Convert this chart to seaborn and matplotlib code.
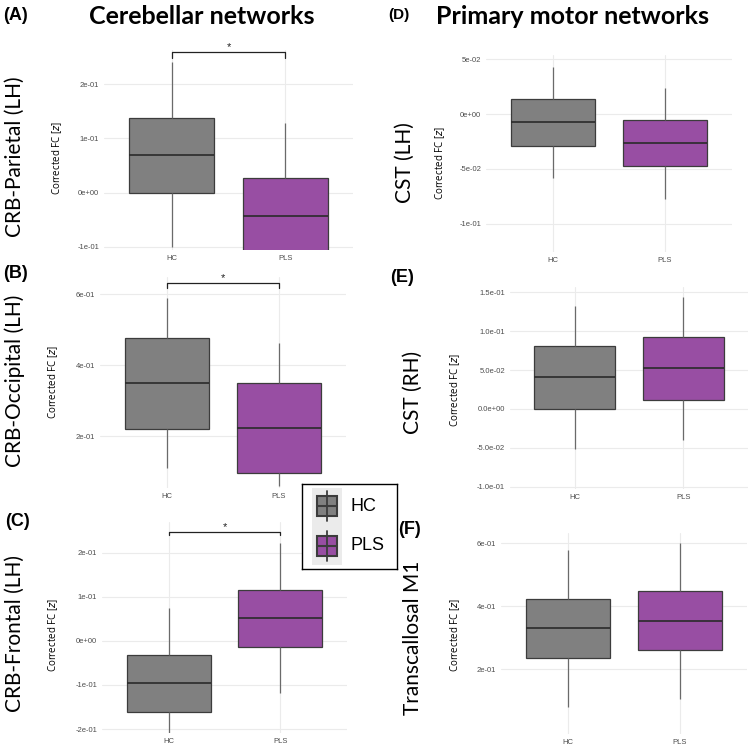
import numpy as np
import pandas as pd
import seaborn as sns
import matplotlib.pyplot as plt
from matplotlib.patches import Rectangle

sns.set_theme(style="whitegrid")
plt.rcParams["font.family"] = ["Liberation Sans", "DejaVu Sans"]
plt.rcParams["text.color"] = "black"

# five-number summaries: [low whisker, q1, median, q3, high whisker]
groups = ["HC", "PLS"]
crb_parietal_hc = [-0.100, 0.000, 0.070, 0.138, 0.240]
crb_parietal_pls = [-0.150, -0.110, -0.044, 0.026, 0.129]
crb_occipital_hc = [0.110, 0.220, 0.349, 0.476, 0.589]
crb_occipital_pls = [0.060, 0.096, 0.222, 0.349, 0.462]
crb_frontal_hc = [-0.220, -0.161, -0.095, -0.032, 0.075]
crb_frontal_pls = [-0.118, -0.014, 0.052, 0.116, 0.222]
cst_lh_hc = [-0.058, -0.029, -0.0076, 0.0134, 0.043]
cst_lh_pls = [-0.0775, -0.047, -0.0265, -0.0056, 0.0235]
cst_rh_hc = [-0.052, 0.000, 0.041, 0.081, 0.133]
cst_rh_pls = [-0.040, 0.0116, 0.053, 0.093, 0.144]
transcallosal_hc = [0.079, 0.235, 0.330, 0.422, 0.578]
transcallosal_pls = [0.105, 0.260, 0.352, 0.448, 0.600]

row_labels = ["CRB-Parietal (LH)", "CRB-Occipital (LH)", "CRB-Frontal (LH)",
              "CST (LH)", "CST (RH)", "Transcallosal M1"]
panel_letters = ["(A)", "(B)", "(C)", "(D)", "(E)", "(F)"]
y_ticks = [[-0.1, 0.0, 0.1, 0.2], [0.2, 0.4, 0.6], [-0.2, -0.1, 0.0, 0.1, 0.2],
           [-0.1, -0.05, 0.0, 0.05], [-0.1, -0.05, 0.0, 0.05, 0.10, 0.15], [0.2, 0.4, 0.6]]
y_tick_labels = [["-1e-01", "0e+00", "1e-01", "2e-01"],
                 ["2e-01", "4e-01", "6e-01"],
                 ["-2e-01", "-1e-01", "0e+00", "1e-01", "2e-01"],
                 ["-1e-01", "-5e-02", "0e+00", "5e-02"],
                 ["-1.0e-01", "-5.0e-02", "0.0e+00", "5.0e-02", "1.0e-01", "1.5e-01"],
                 ["2e-01", "4e-01", "6e-01"]]
y_limits = [(-0.106, 0.263), (0.054, 0.648), (-0.209, 0.27),
            (-0.126, 0.054), (-0.103, 0.157), (-0.006, 0.632)]
# significance brackets (y of bar, y of end ticks); None = no bracket
brackets = [(0.259, 0.248), (0.631, 0.617), (0.248, 0.240), None, None, None]

summaries = [(crb_parietal_hc, crb_parietal_pls), (crb_occipital_hc, crb_occipital_pls),
             (crb_frontal_hc, crb_frontal_pls), (cst_lh_hc, cst_lh_pls),
             (cst_rh_hc, cst_rh_pls), (transcallosal_hc, transcallosal_pls)]

palette = {"HC": "#808080", "PLS": "#984ea3"}
W, H = 749, 747

# axes boxes in pixels: left, top, right, bottom
axes_px = [(104, 50, 353, 250), (100, 277, 346, 488), (102, 522, 347, 733),
           (486, 55, 732, 252), (510, 287, 748, 489), (501, 533, 747, 734)]
row_label_px = [(15, 157), (15, 381), (15, 633), (405, 163), (413, 392), (413, 638)]
ylabel_px = [(57, 158), (53, 382), (53, 635), (440, 163), (455, 390), (455, 635)]
letter_px = [(3, 16), (3, 274), (5, 522), (388, 15), (390, 278), (398, 530)]
letter_size = [13, 13, 13, 11, 13, 13]

fig = plt.figure(figsize=(W / 100, H / 100), dpi=100)


def fx(x):
    return x / W


def fy(y):
    return 1 - y / H


for i in range(6):
    l, t, r, b = axes_px[i]
    ax = fig.add_axes([fx(l), fy(b), (r - l) / W, (b - t) / H])
    hc, pls = summaries[i]
    df = pd.DataFrame({"group": ["HC"] * 5 + ["PLS"] * 5, "value": hc + pls})
    sns.boxplot(data=df, x="group", y="value", hue="group", palette=palette,
                order=groups, hue_order=groups, dodge=False, legend=False,
                width=0.75, whis=(0, 100), showfliers=False, showcaps=False,
                linecolor="#3c3c3c", linewidth=0.9, saturation=1,
                whiskerprops={"color": "#6a6a6a"},
                medianprops={"color": "#2a2a2a", "linewidth": 1.2}, ax=ax)
    ax.set_xlim(-0.6, 1.6)
    ax.set_ylim(*y_limits[i])
    ax.set_yticks(y_ticks[i])
    ax.set_yticklabels(y_tick_labels[i])
    ax.set_xlabel("")
    ax.set_ylabel("")
    for s in ax.spines.values():
        s.set_visible(False)
    ax.grid(True, color="#ebebeb", linewidth=0.8)
    ax.set_axisbelow(True)
    ax.tick_params(axis="both", labelsize=5.5, labelcolor="#4d4d4d", colors="#4d4d4d",
                   length=2, width=0.5, pad=1.5)
    ax.tick_params(axis="both", labelcolor="#4d4d4d")
    if brackets[i] is not None:
        yb, yt = brackets[i]
        ax.plot([0, 0, 1, 1], [yt, yb, yb, yt], color="#222222", lw=0.9, clip_on=False)
        ax.text(0.5, yb, "*", ha="center", va="bottom", fontsize=8, color="#222222")

    fig.text(fx(row_label_px[i][0]), fy(row_label_px[i][1]), row_labels[i],
             rotation=90, ha="center", va="center", fontsize=15, family="Lato")
    fig.text(fx(ylabel_px[i][0]), fy(ylabel_px[i][1]), "Corrected FC [$z$]",
             rotation=90, ha="center", va="center", fontsize=7, family="Open Sans")
    fig.text(fx(letter_px[i][0]), fy(letter_px[i][1]), panel_letters[i],
             ha="left", va="center", fontsize=letter_size[i], fontweight="bold",
             family="Liberation Sans")

fig.text(fx(202), fy(16), "Cerebellar networks", ha="center", va="center",
         fontsize=18, fontweight="bold", family="Lato")
fig.text(fx(572), fy(16), "Primary motor networks", ha="center", va="center",
         fontsize=18, fontweight="bold", family="Lato")

# legend drawn as its own small axes
lg = fig.add_axes([fx(302), fy(569), 95 / W, 85 / H])
lg.set_xlim(0, 95)
lg.set_ylim(85, 0)
lg.set_xticks([])
lg.set_yticks([])
for s in lg.spines.values():
    s.set_color("black")
    s.set_linewidth(1)
lg.set_facecolor("white")
lg.add_patch(Rectangle((10, 4), 30, 77, color="#ebebeb", lw=0))
for yc, g in [(22, "HC"), (62, "PLS")]:
    lg.plot([25, 25], [yc - 15, yc + 15], color="#3c3c3c", lw=1.3)
    lg.add_patch(Rectangle((15, yc - 10), 20, 20, facecolor=palette[g],
                           edgecolor="#3c3c3c", lw=1.5))
    lg.plot([15, 35], [yc, yc], color="#3c3c3c", lw=1.5)
    lg.text(48, yc, g, ha="left", va="center", fontsize=13, family="Liberation Sans")

fig.savefig("out.png", dpi=100)
